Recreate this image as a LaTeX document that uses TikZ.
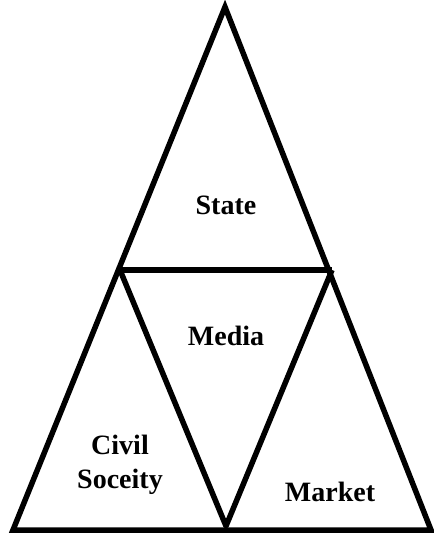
\documentclass[tikz,border=0pt]{standalone}
\usepackage{fontspec}
\setmainfont{Liberation Serif}
\usetikzlibrary{positioning}

\begin{document}
\begin{tikzpicture}[x=1pt,y=-1pt]
  \useasboundingbox (0,0) rectangle (434,536);
  \tikzset{lbl/.style={font=\fontsize{28}{34}\selectfont\bfseries,align=center,inner sep=0pt}}

  \coordinate (top)   at (225,7);
  \coordinate (bl)    at (13,530);
  \coordinate (br)    at (431,530);
  \coordinate (bm)    at (226,526);
  \coordinate (ml)    at (120,270);
  \coordinate (mr)    at (332,270);

  \draw [line width=5.5pt,line join=miter] (top) -- (br) -- (bl) -- cycle;
  \draw [line width=5.5pt] (ml) -- (mr);
  \draw [line width=5.5pt,line join=round] (ml) -- (bm) -- (mr);

  \node [lbl] (state)  at (226,205) {State};
  \node [lbl] (media)  at (226,336) {Media};
  \node [lbl] (civil)  at (120,465) {Civil\\Soceity};
  \node [lbl] (market) at (330,492) {Market};
\end{tikzpicture}
\end{document}
